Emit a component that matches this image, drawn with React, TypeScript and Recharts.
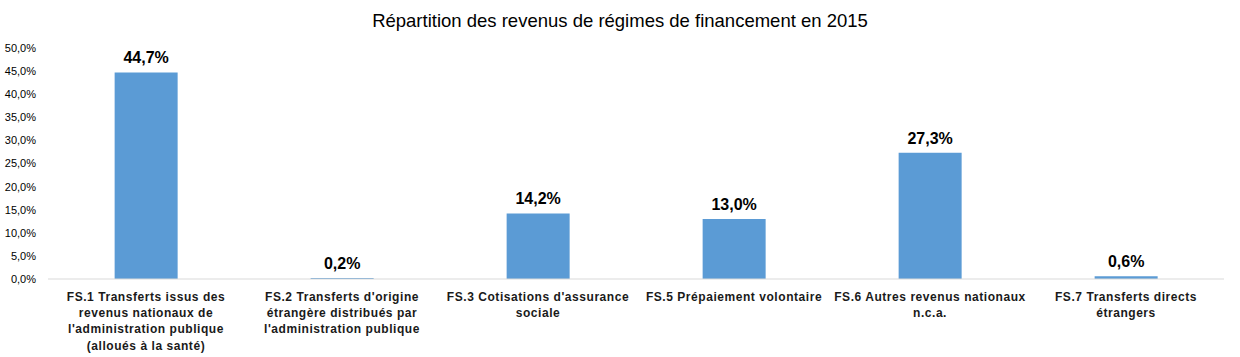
import React from 'react';
import { BarChart, Bar, XAxis, YAxis, LabelList } from 'recharts';

const categories: string[] = [
  "FS.1 Transferts issus des\nrevenus nationaux de\nl'administration publique\n(alloués à la santé)",
  "FS.2 Transferts d'origine\nétrangère distribués par\nl'administration publique",
  "FS.3 Cotisations d'assurance\nsociale",
  "FS.5 Prépaiement volontaire",
  "FS.6 Autres revenus nationaux\nn.c.a.",
  "FS.7 Transferts directs\nétrangers",
];
const values: number[] = [44.7, 0.2, 14.2, 13.0, 27.3, 0.6];
const yTicks: number[] = [0, 5, 10, 15, 20, 25, 30, 35, 40, 45, 50];
const title = 'Répartition des revenus de régimes de financement en 2015';

const data = categories.map((c, i) => ({ name: c, value: values[i] }));

const fmt = (v: number) => v.toFixed(1).replace('.', ',') + '%';

const CatTick = (props: any) => {
  const { x, y, payload } = props;
  const lines = String(payload.value).split('\n');
  return (
    <g transform={`translate(${x},${y})`}>
      {lines.map((l, i) => (
        <text
          key={i}
          x={0}
          y={14 + i * 16.2}
          textAnchor="middle"
          fontFamily="Liberation Sans, Arial, sans-serif"
          fontWeight="bold"
          fontSize={12}
          letterSpacing={0.55}
          fill="#1a1a1a"
        >
          {l}
        </text>
      ))}
    </g>
  );
};

export default function App() {
  return (
    <div style={{ position: 'absolute', left: 0, top: 0, width: 1240, height: 357, background: '#fff', fontFamily: 'Liberation Sans, Arial, sans-serif' }}>
      <div style={{ position: 'absolute', top: 10, left: 0, width: 1240, textAlign: 'center', fontSize: 18.5, lineHeight: '22px', color: '#000' }}>
        {title}
      </div>
      <BarChart
        width={1240}
        height={357}
        data={data}
        margin={{ top: 48, right: 16, bottom: 0, left: 0 }}
        barCategoryGap="34%"
      >
        <XAxis
          dataKey="name"
          tick={<CatTick />}
          tickLine={false}
          axisLine={{ stroke: '#d9d9d9' }}
          interval={0}
          height={78}
        />
        <YAxis
          domain={[0, 50]}
          ticks={yTicks}
          tickFormatter={fmt}
          axisLine={false}
          tickLine={false}
          width={48}
          interval={0}
          tick={{ fontSize: 11, fill: '#000', fontFamily: 'Liberation Sans, Arial, sans-serif' }}
          tickMargin={6}
        />
        <Bar dataKey="value" fill="#5b9bd5" isAnimationActive={false}>
          <LabelList
            dataKey="value"
            position="top"
            offset={9}
            formatter={(v: any) => fmt(Number(v))}
            style={{ fontSize: 16, fontWeight: 'bold', fill: '#000', fontFamily: 'Liberation Sans, Arial, sans-serif' }}
          />
        </Bar>
      </BarChart>
    </div>
  );
}
